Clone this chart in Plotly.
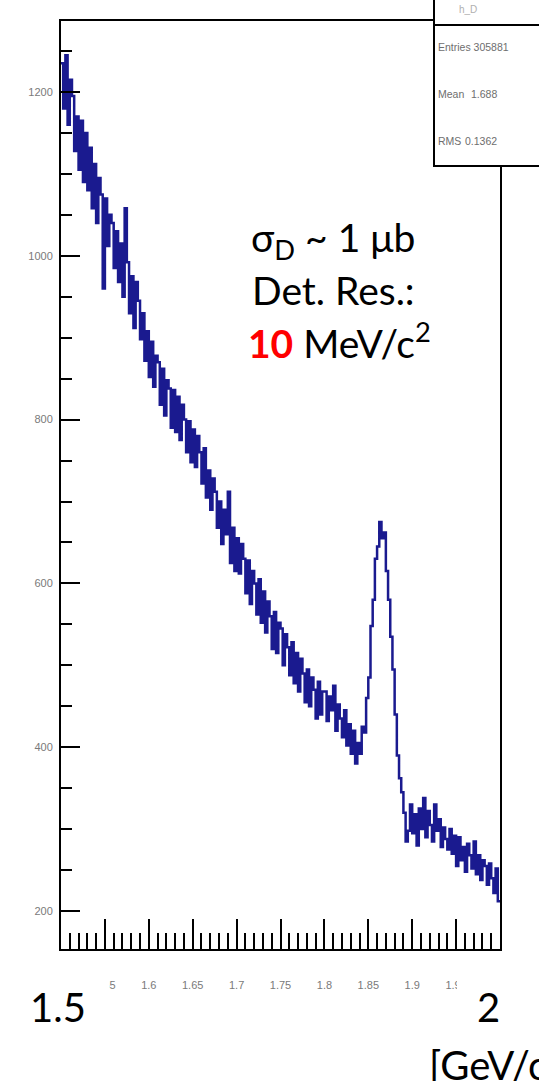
import plotly.graph_objects as go

# ---------------- data ----------------
x_min, x_max, bin_width = 1.5, 2.0, 0.0025

counts_155 = [1235, 1180, 1245, 1160, 1215, 1195, 1128, 1170, 1105, 1165, 1090, 1150, 1080, 1132, 1058, 1112, 1040, 1095, 1075, 960]
counts_160 = [1070, 1012, 1050, 1040, 985, 1030, 968, 1015, 950, 1058, 992, 930, 975, 912, 968, 945, 898, 930, 872, 908]
counts_165 = [852, 895, 840, 878, 870, 818, 862, 805, 848, 838, 790, 836, 785, 828, 775, 818, 800, 760, 798, 748]
counts_170 = [788, 742, 780, 760, 722, 765, 705, 738, 690, 728, 712, 668, 700, 648, 690, 660, 712, 625, 668, 615]
counts_175 = [655, 612, 648, 630, 588, 628, 575, 615, 600, 562, 605, 552, 590, 540, 578, 560, 520, 565, 515, 552]
counts_180 = [545, 500, 538, 522, 488, 528, 478, 515, 468, 508, 490, 455, 495, 450, 485, 470, 435, 480, 440, 468]
counts_185 = [468, 432, 462, 445, 475, 420, 452, 435, 412, 445, 402, 428, 392, 420, 380, 405, 392, 425, 418, 460]
counts_190 = [485, 548, 580, 630, 645, 675, 655, 662, 615, 580, 535, 495, 440, 390, 362, 345, 320, 285, 298, 330]
counts_195 = [295, 318, 280, 325, 300, 338, 290, 322, 305, 285, 330, 298, 312, 278, 302, 288, 275, 300, 270, 292]
counts_200 = [255, 290, 262, 278, 248, 282, 268, 252, 285, 245, 268, 238, 262, 255, 232, 258, 240, 222, 252, 212]

x_tick_vals = [1.55, 1.6, 1.65, 1.7, 1.75, 1.8, 1.85, 1.9, 1.95]
x_tick_text = ["1.55", "1.6", "1.65", "1.7", "1.75", "1.8", "1.85", "1.9", "1.95"]
y_tick_vals = [200, 400, 600, 800, 1000, 1200]
y_tick_text = ["200", "400", "600", "800", "1000", "1200"]

stats_entries = "305881"
stats_mean = "1.688"
stats_rms = "0.1362"

# ---------------- build histogram steps ----------------
counts = (counts_155 + counts_160 + counts_165 + counts_170 + counts_175 +
          counts_180 + counts_185 + counts_190 + counts_195 + counts_200)
edges = [x_min + i * bin_width for i in range(len(counts) + 1)]
xs = edges[:-1] + [edges[-1]]
ys = counts + [counts[-1]]

fig = go.Figure()
fig.add_trace(go.Scatter(x=xs, y=ys, mode="lines", line_shape="hv",
                         line=dict(color="#1a1a8f", width=2.5), hoverinfo="skip",
                         showlegend=False))

# plot area in pixels: x 61..500, y 21..949
L, R, T, B = 61, 39, 21, 132
W, H = 539, 1081
pw, ph = W - L - R, H - T - B


def px(xp):
    return (xp - L) / pw


def py(yp):
    return (H - B - yp) / ph


fig.update_layout(
    width=W, height=H, margin=dict(l=L, r=R, t=T, b=B),
    paper_bgcolor="white", plot_bgcolor="white",
    font=dict(family="Liberation Sans, Arial, sans-serif"),
    xaxis=dict(range=[x_min, x_max], showgrid=False, zeroline=False,
               showline=True, linecolor="black", linewidth=2, mirror=True,
               tickvals=x_tick_vals, ticktext=x_tick_text,
               ticks="inside", ticklen=30, tickwidth=1.5, tickcolor="black",
               minor=dict(dtick=0.01, tick0=1.5, ticks="inside", ticklen=16,
                          tickwidth=1.5, tickcolor="black"),
               tickfont=dict(size=11, color="#7a7a7a"), ticklabelstandoff=25),
    yaxis=dict(range=[153.6, 1286.7], showgrid=False, zeroline=False,
               showline=True, linecolor="black", linewidth=2, mirror=True,
               tickvals=y_tick_vals, ticktext=y_tick_text,
               ticks="inside", ticklen=19, tickwidth=1.5, tickcolor="black",
               minor=dict(dtick=50, tick0=0, ticks="inside", ticklen=11,
                          tickwidth=1.5, tickcolor="black"),
               tickfont=dict(size=11, color="#7a7a7a"), ticklabelstandoff=4),
)

shapes = [
    # stats box
    dict(type="rect", xref="paper", yref="paper", x0=px(434), x1=px(560),
         y0=py(166), y1=py(-10), fillcolor="white",
         line=dict(color="black", width=2), layer="above"),
    dict(type="line", xref="paper", yref="paper", x0=px(434), x1=px(560),
         y0=py(25), y1=py(25), line=dict(color="black", width=2), layer="above"),
    # white patches behind the big axis labels
    dict(type="rect", xref="paper", yref="paper", x0=px(0), x1=px(109),
         y0=py(1050), y1=py(962), fillcolor="white", line=dict(width=0), layer="above"),
    dict(type="rect", xref="paper", yref="paper", x0=px(457), x1=px(545),
         y0=py(1050), y1=py(962), fillcolor="white", line=dict(width=0), layer="above"),
]
fig.update_layout(shapes=shapes)

gray = "#6e6e6e"
ann = [
    dict(x=px(468), y=py(10), text="h_D", font=dict(size=10, color="#b0b0b0")),
    dict(x=px(436), y=py(47), text="Entries " + stats_entries, xanchor="left",
         font=dict(size=10.5, color=gray)),
    dict(x=px(436), y=py(94), text="Mean", xanchor="left", font=dict(size=10.5, color=gray)),
    dict(x=px(499), y=py(94), text=stats_mean, xanchor="right", font=dict(size=10.5, color=gray)),
    dict(x=px(436), y=py(141), text="RMS", xanchor="left", font=dict(size=10.5, color=gray)),
    dict(x=px(499), y=py(141), text=stats_rms, xanchor="right", font=dict(size=10.5, color=gray)),
    dict(x=px(58), y=py(1007), text="1.5", font=dict(size=40, color="black", family="Lato")),
    dict(x=px(488), y=py(1007), text="2", font=dict(size=40, color="black", family="Lato")),
    dict(x=px(427), y=py(1062), text="[GeV/c<sup>2</sup>]", xanchor="left",
         font=dict(size=40, color="black", family="Lato")),
    dict(x=px(249), y=py(240), text="σ<sub>D</sub> ~ 1 μb", xanchor="left",
         font=dict(size=39, color="black", family="Lato")),
    dict(x=px(250), y=py(290), text="Det. Res.:", xanchor="left",
         font=dict(size=39, color="black", family="Lato")),
    dict(x=px(246), y=py(340),
         text="<b><span style='color:#ff0000'>10</span></b> MeV/c<sup>2</sup>",
         xanchor="left", font=dict(size=39, color="black", family="Lato")),
]
for a in ann:
    a.setdefault("xref", "paper")
    a.setdefault("yref", "paper")
    a.setdefault("showarrow", False)
    a.setdefault("xanchor", "center")
    a.setdefault("yanchor", "middle")
fig.update_layout(annotations=ann)

fig.write_html("out.html")
